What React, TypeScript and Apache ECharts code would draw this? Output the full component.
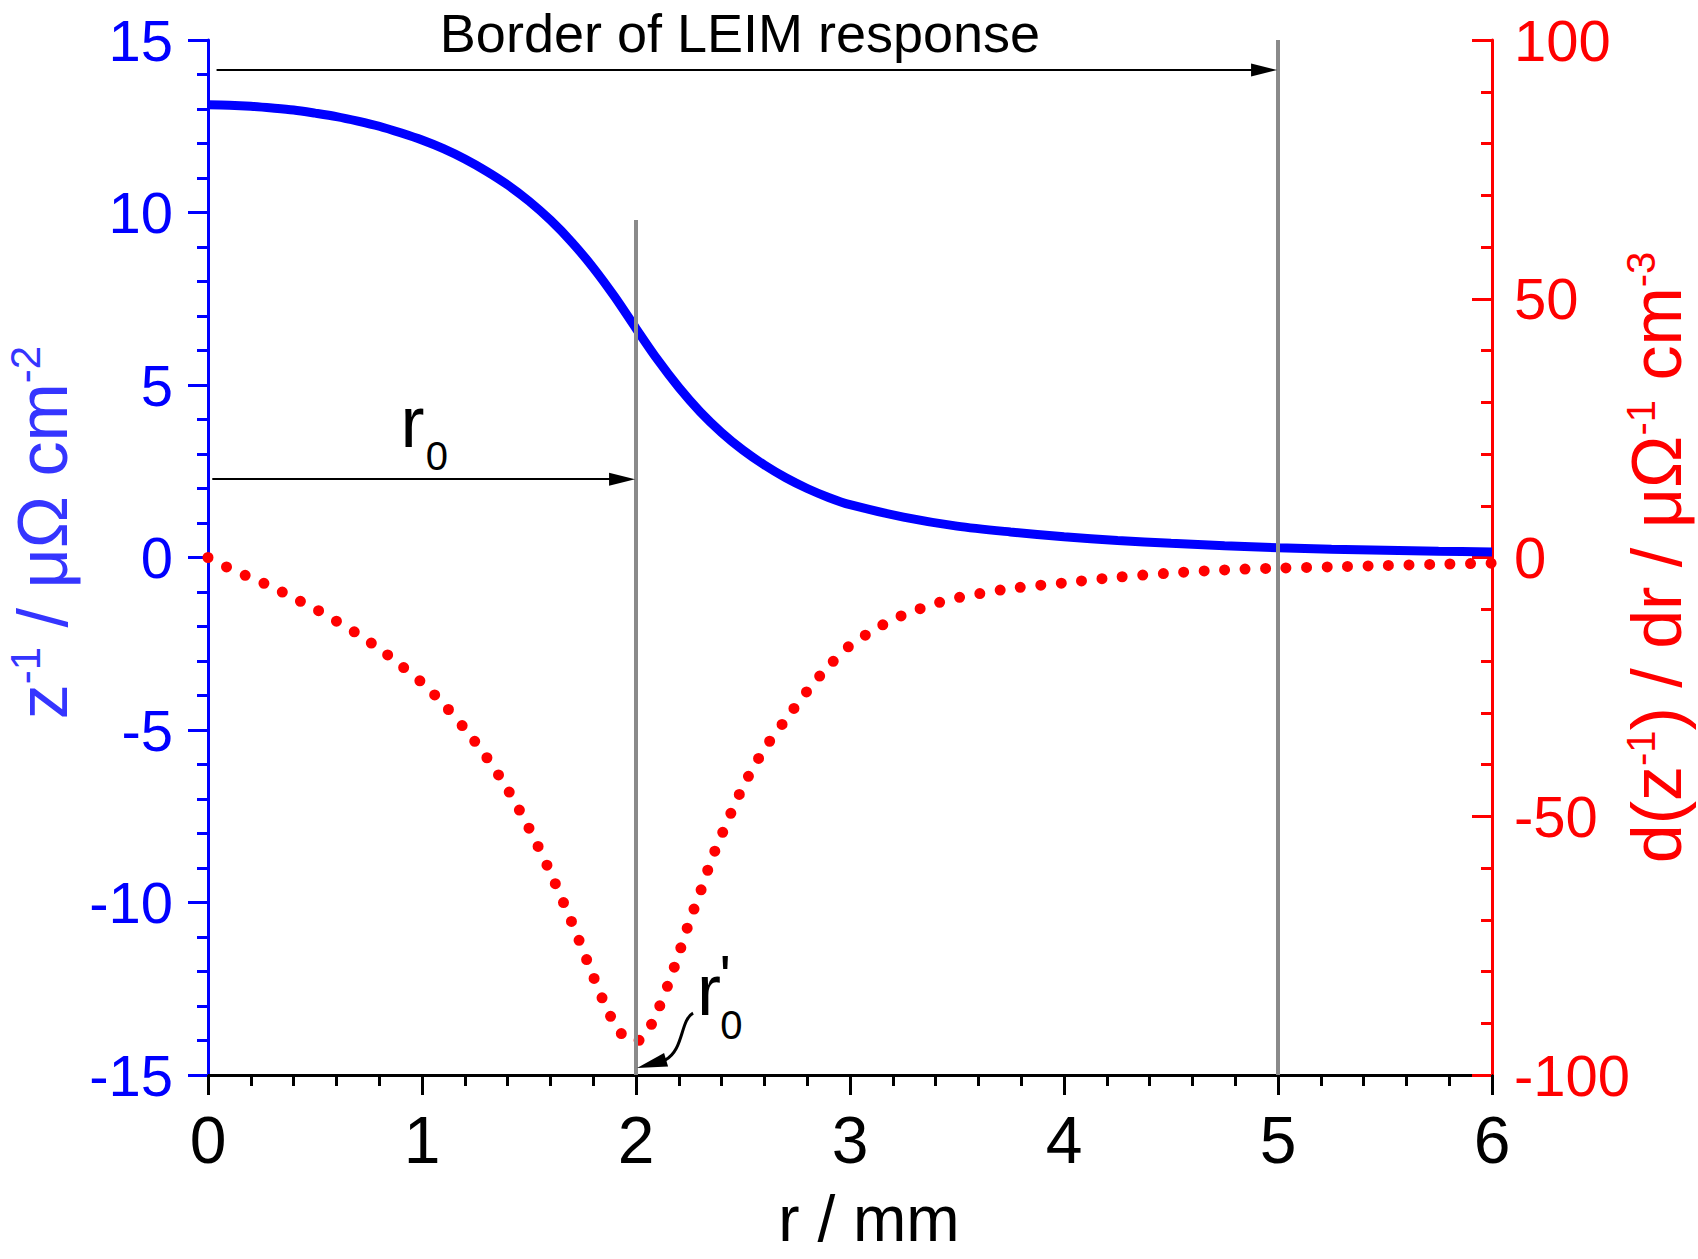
import React, { useEffect, useRef } from 'react';
import * as echarts from 'echarts';

// ---- data ----
const rBlue = [0, 0.1, 0.2, 0.3, 0.4, 0.5, 0.6, 0.7, 0.8, 0.9, 1.0, 1.1, 1.2, 1.3, 1.4, 1.5, 1.6, 1.7, 1.8, 1.9, 2.0, 2.1, 2.2, 2.3, 2.4, 2.5, 2.6, 2.7, 2.8, 2.9, 3.0, 3.25, 3.5, 3.75, 4.0, 4.25, 4.5, 4.75, 5.0, 5.25, 5.5, 5.75, 6.0];
const zInverse = [13.12, 13.11, 13.08, 13.03, 12.97, 12.88, 12.78, 12.65, 12.5, 12.31, 12.1, 11.85, 11.55, 11.2, 10.8, 10.33, 9.78, 9.14, 8.4, 7.56, 6.64, 5.74, 4.93, 4.22, 3.62, 3.11, 2.68, 2.31, 2.0, 1.74, 1.53, 1.17, 0.91, 0.74, 0.6, 0.49, 0.41, 0.34, 0.28, 0.24, 0.21, 0.18, 0.16];

const rRed = [0, 0.1, 0.2, 0.3, 0.4, 0.5, 0.6, 0.7, 0.8, 0.9, 1.0, 1.1, 1.2, 1.3, 1.4, 1.5, 1.6, 1.7, 1.8, 1.85, 1.9, 1.95, 2.0, 2.05, 2.1, 2.15, 2.2, 2.25, 2.3, 2.35, 2.4, 2.5, 2.6, 2.7, 2.8, 2.9, 3.0, 3.1, 3.2, 3.3, 3.4, 3.5, 3.75, 4.0, 4.25, 4.5, 4.75, 5.0, 5.25, 5.5, 5.75, 6.0];
const dzInverse = [0, -2.1, -3.9, -5.7, -7.8, -9.9, -12.3, -14.8, -17.6, -20.8, -24.2, -28.3, -33.1, -38.5, -44.8, -52.3, -60.9, -70.5, -80.9, -85.9, -90.1, -92.8, -93.5, -91.8, -87.7, -82.5, -76.6, -70.3, -64.7, -58.7, -53.6, -44.3, -37.0, -31.3, -25.8, -21.0, -17.0, -14.3, -12.0, -10.3, -8.9, -7.8, -6.0, -4.9, -3.8, -3.0, -2.4, -2.05, -1.8, -1.55, -1.3, -1.1];

// vertical reference lines: x position and top (left-axis units)
const markerX = [2, 5];
const markerTop = [9.78, 15];

// annotation anchors (data coordinates, left axis)
const borderArrow = [[0.04, 14.13], [4.935, 14.13]];
const r0Arrow = [[0.02, 2.27], [1.935, 2.27]];
const borderLabel = { text: 'Border of LEIM response', at: [2.486, 15.19] };
const r0Label = { r: [0.9, 3.92], sub: [1.017, 2.93] };
const r0pLabel = { r: [2.285, -12.54], prime: [2.39, -12.136], sub: [2.394, -13.55] };
const r0pArrowTip = [2.005, -14.8];

const FONT = "'Liberation Sans', Arial, Helvetica, sans-serif";
const BLUE = '#0000ff';
const RED = '#ff0000';
const GRAY = '#8a8a8a';

export default function App() {
  const ref = useRef<HTMLDivElement>(null);

  useEffect(() => {
    if (!ref.current) return;
    const chart = echarts.init(ref.current, undefined, { renderer: 'svg' });

    const option: any = {
      animation: false,
      backgroundColor: '#ffffff',
      textStyle: { fontFamily: FONT },
      grid: { left: 208, right: 206, top: 40, bottom: 184, containLabel: false, outerBoundsMode: 'none' },
      xAxis: {
        type: 'value', min: 0, max: 6, interval: 1,
        axisLine: { show: true, onZero: false, lineStyle: { color: '#000', width: 3 } },
        axisTick: { show: true, length: 20, lineStyle: { color: '#000', width: 3 } },
        minorTick: { show: true, splitNumber: 5, length: 11, lineStyle: { color: '#000', width: 3 } },
        splitLine: { show: false },
        minorSplitLine: { show: false },
        axisLabel: { fontSize: 66, color: '#000', margin: 32, fontFamily: FONT },
        name: 'r / mm', nameLocation: 'middle', nameGap: 112,
        nameTextStyle: { fontSize: 64, color: '#000', fontFamily: FONT, padding: [0, 0, 0, 38] },
      },
      yAxis: [
        {
          type: 'value', min: -15, max: 15, interval: 5, position: 'left',
          axisLine: { show: true, onZero: false, lineStyle: { color: BLUE, width: 3 } },
          axisTick: { show: true, length: 20, lineStyle: { color: BLUE, width: 3 } },
          minorTick: { show: true, splitNumber: 5, length: 11, lineStyle: { color: BLUE, width: 3 } },
          splitLine: { show: false },
          minorSplitLine: { show: false },
          axisLabel: { fontSize: 58, color: BLUE, margin: 35, fontFamily: FONT },
          name: '{n|z}{s|-1}{n| / μΩ cm}{s|-2}',
          nameLocation: 'middle', nameRotate: 90, nameGap: 116,
          nameTextStyle: {
            color: '#3535ff', fontFamily: FONT, padding: [0, 0, 0, 50],
            rich: {
              n: { fontSize: 70, lineHeight: 78, color: '#3535ff', fontFamily: FONT },
              s: { fontSize: 42, verticalAlign: 'top', color: '#3535ff', fontFamily: FONT },
            },
          },
        },
        {
          type: 'value', min: -100, max: 100, interval: 50, position: 'right',
          axisLine: { show: true, onZero: false, lineStyle: { color: RED, width: 3 } },
          axisTick: { show: true, inside: true, length: 20, lineStyle: { color: RED, width: 3 } },
          minorTick: { show: true, splitNumber: 5, length: 11, lineStyle: { color: RED, width: 3 } },
          splitLine: { show: false },
          minorSplitLine: { show: false },
          axisLabel: { fontSize: 58, color: RED, margin: 22, fontFamily: FONT },
          name: '{n|d(z}{s|-1}{n|) / dr / μΩ}{s|-1}{n| cm}{s|-3}',
          nameLocation: 'middle', nameRotate: 90, nameGap: 129,
          nameMoveOverlap: false,
          nameTextStyle: {
            color: RED, fontFamily: FONT,
            rich: {
              n: { fontSize: 70, lineHeight: 72, color: RED, fontFamily: FONT },
              s: { fontSize: 40, verticalAlign: 'top', color: RED, fontFamily: FONT },
            },
          },
        },
      ],
      series: [
        {
          type: 'line', name: 'zinv', yAxisIndex: 0,
          data: rBlue.map((r, i) => [r, zInverse[i]]),
          symbol: 'none', showSymbol: false, smooth: 0.3,
          lineStyle: { color: BLUE, width: 9 },
          z: 3, silent: true,
        },
        {
          type: 'line', name: 'dzinv', yAxisIndex: 1,
          data: rRed.map((r, i) => [r, dzInverse[i]]),
          symbol: 'none', showSymbol: false, smooth: 0.3,
          lineStyle: { color: RED, width: 11, type: [0, 20.5], cap: 'round' },
          z: 2, silent: true,
        },
        {
          type: 'line', name: 'markers', yAxisIndex: 0, data: [], color: GRAY, z: 5, silent: true,
          markLine: {
            silent: true, animation: false,
            symbol: ['none', 'none'],
            label: { show: false },
            lineStyle: { color: GRAY, width: 4, type: 'solid' },
            emphasis: { disabled: true },
            data: markerX.map((x, i) => [{ coord: [x, markerTop[i]] }, { coord: [x, -15] }]),
          },
        },
        {
          type: 'line', name: 'arrows', yAxisIndex: 0, data: [], color: '#000', z: 6, silent: true,
          markLine: {
            silent: true, animation: false,
            symbol: ['none', 'triangle'],
            label: { show: false },
            lineStyle: { color: '#000', width: 2, type: 'solid' },
            itemStyle: { color: '#000' },
            emphasis: { disabled: true },
            data: [borderArrow, r0Arrow].map((a) => [
              { coord: a[0], symbol: 'none' },
              { coord: a[1], symbol: 'triangle', symbolSize: [13, 26] },
            ]),
          },
        },
      ],
    };

    chart.setOption(option);

    const px = (p: number[]) => chart.convertToPixel({ seriesIndex: 0 }, p) as number[];
    const txt = (p: number[], text: string, size: number, align: string) => {
      const [x, y] = px(p);
      return {
        type: 'text', x, y, z: 20, silent: true,
        style: { text, fontSize: size, fontFamily: FONT, fill: '#000', align, verticalAlign: 'middle' },
      };
    };
    const [tx, ty] = px(r0pArrowTip);

    chart.setOption({
      graphic: [
        txt(borderLabel.at, borderLabel.text, 54, 'center'),
        txt(r0Label.r, 'r', 72, 'left'),
        txt(r0Label.sub, '0', 40, 'left'),
        txt(r0pLabel.r, 'r', 72, 'left'),
        txt(r0pLabel.prime, "'", 60, 'left'),
        txt(r0pLabel.sub, '0', 40, 'left'),
        {
          type: 'bezierCurve', z: 20, silent: true,
          shape: {
            x1: tx + 56, y1: ty - 55,
            cpx1: tx + 43, cpy1: ty - 48,
            cpx2: tx + 47, cpy2: ty - 18,
            x2: tx + 28, y2: ty - 8,
          },
          style: { stroke: '#000', lineWidth: 3, fill: 'none' },
        },
        {
          type: 'polygon', z: 20, silent: true,
          shape: { points: [[tx, ty], [tx + 27, ty - 15], [tx + 31, ty - 1.5]] },
          style: { fill: '#000' },
        },
      ],
    });

    return () => chart.dispose();
  }, []);

  return (
    <div
      ref={ref}
      style={{ position: 'absolute', left: 0, top: 0, width: 1698, height: 1259 }}
    />
  );
}
